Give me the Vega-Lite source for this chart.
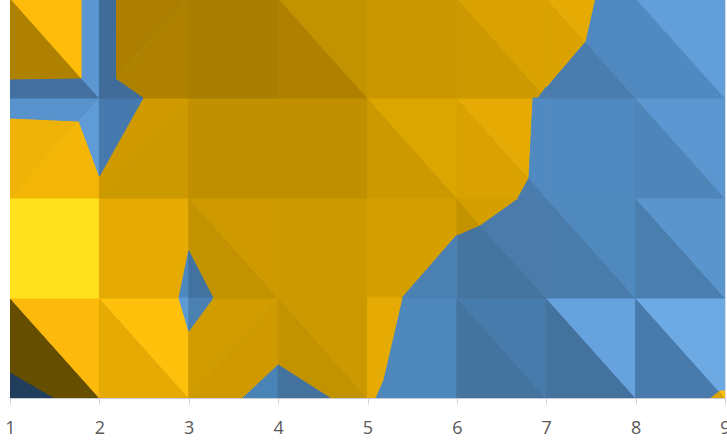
{"$schema":"https://vega.github.io/schema/vega-lite/v6.json","autosize":"none","padding":{"left":10,"top":0,"right":2,"bottom":45},"width":715,"height":398,"background":"white","config":{"view":{"stroke":"#DCDCDC"}},
"data":{"values":[
{"poly":1,"band":"b01","x":1,"y0":0,"y1":1},{"poly":1,"band":"b01","x":2,"y0":0,"y1":0},
{"poly":2,"band":"b03","x":1,"y0":1,"y1":1},{"poly":2,"band":"b03","x":2,"y0":0,"y1":1},
{"poly":3,"band":"b05","x":2,"y0":0,"y1":1},{"poly":3,"band":"b05","x":3,"y0":0,"y1":0},
{"poly":4,"band":"b04","x":2,"y0":1,"y1":1},{"poly":4,"band":"b04","x":2.891,"y0":0.109,"y1":1},{"poly":4,"band":"b04","x":3,"y0":0,"y1":0.67},
{"poly":5,"band":"b07","x":3,"y0":0,"y1":0.67},{"poly":5,"band":"b07","x":3.271,"y0":0.271,"y1":1},{"poly":5,"band":"b07","x":4,"y0":1,"y1":1},
{"poly":6,"band":"b08","x":3,"y0":0,"y1":0},{"poly":6,"band":"b08","x":3.607,"y0":0,"y1":0.607},{"poly":6,"band":"b08","x":4,"y0":0.33,"y1":1},
{"poly":7,"band":"b09","x":4,"y0":0.33,"y1":1},{"poly":7,"band":"b09","x":4.58,"y0":0,"y1":0.42},{"poly":7,"band":"b09","x":5,"y0":0,"y1":0},
{"poly":8,"band":"b10","x":4,"y0":1,"y1":1},{"poly":8,"band":"b10","x":5,"y0":0,"y1":1},
{"poly":9,"band":"c07","x":5.084,"y0":0,"y1":0},{"poly":9,"band":"c07","x":5.173,"y0":0,"y1":0.18},{"poly":9,"band":"c07","x":5.386,"y0":0,"y1":1},{"poly":9,"band":"c07","x":6,"y0":0,"y1":1},
{"poly":11,"band":"c01","x":6,"y0":0,"y1":1},{"poly":11,"band":"c01","x":7,"y0":0,"y1":0},
{"poly":12,"band":"c02","x":6,"y0":1,"y1":1},{"poly":12,"band":"c02","x":7,"y0":0,"y1":1},
{"poly":13,"band":"c03","x":7,"y0":0,"y1":1},{"poly":13,"band":"c03","x":8,"y0":0,"y1":0},
{"poly":14,"band":"c04","x":7,"y0":1,"y1":1},{"poly":14,"band":"c04","x":8,"y0":0,"y1":1},
{"poly":15,"band":"c05","x":8,"y0":0,"y1":1},{"poly":15,"band":"c05","x":9,"y0":0,"y1":0},
{"poly":16,"band":"c06","x":8,"y0":1,"y1":1},{"poly":16,"band":"c06","x":9,"y0":0,"y1":1},
{"poly":17,"band":"b06","x":1,"y0":1,"y1":2},{"poly":17,"band":"b06","x":2,"y0":1,"y1":2},
{"poly":18,"band":"b05","x":2,"y0":1,"y1":2},{"poly":18,"band":"b05","x":2.891,"y0":1,"y1":2},{"poly":18,"band":"b05","x":3,"y0":1.47,"y1":2},
{"poly":19,"band":"b09","x":3,"y0":1.47,"y1":2},{"poly":19,"band":"b09","x":3.271,"y0":1,"y1":1.729},{"poly":19,"band":"b09","x":4,"y0":1,"y1":1},
{"poly":20,"band":"b08","x":3,"y0":2,"y1":2},{"poly":20,"band":"b08","x":4,"y0":1,"y1":2},
{"poly":21,"band":"b10","x":4,"y0":1,"y1":2},{"poly":21,"band":"b10","x":5,"y0":1,"y1":2},
{"poly":22,"band":"b11","x":5,"y0":1,"y1":2},{"poly":22,"band":"b11","x":5.386,"y0":1,"y1":2},{"poly":22,"band":"b11","x":6,"y0":1.63,"y1":2},
{"poly":23,"band":"c09","x":6,"y0":1,"y1":1.63},{"poly":23,"band":"c09","x":6.259,"y0":1,"y1":1.73},{"poly":23,"band":"c09","x":7,"y0":1,"y1":1},
{"poly":24,"band":"c10","x":6.259,"y0":1.73,"y1":1.73},{"poly":24,"band":"c10","x":6.684,"y0":1.316,"y1":2},{"poly":24,"band":"c10","x":7,"y0":1,"y1":2},
{"poly":25,"band":"c11","x":7,"y0":1,"y1":2},{"poly":25,"band":"c11","x":8,"y0":1,"y1":1},
{"poly":26,"band":"c12","x":7,"y0":2,"y1":2},{"poly":26,"band":"c12","x":8,"y0":1,"y1":2},
{"poly":27,"band":"c13","x":8,"y0":1,"y1":2},{"poly":27,"band":"c13","x":9,"y0":1,"y1":1},
{"poly":28,"band":"c14","x":8,"y0":2,"y1":2},{"poly":28,"band":"c14","x":9,"y0":1,"y1":2},
{"poly":29,"band":"b13","x":1,"y0":2,"y1":2.8},{"poly":29,"band":"b13","x":1.772,"y0":2.77,"y1":2.77},
{"poly":30,"band":"b14","x":1,"y0":2,"y1":2},{"poly":30,"band":"b14","x":1.772,"y0":2,"y1":2.77},{"poly":30,"band":"b14","x":2,"y0":2,"y1":2.22},
{"poly":31,"band":"b08","x":2,"y0":2,"y1":2.22},{"poly":31,"band":"b08","x":2.488,"y0":2.488,"y1":3},{"poly":31,"band":"b08","x":3,"y0":3,"y1":3},
{"poly":32,"band":"b10","x":2,"y0":2,"y1":2},{"poly":32,"band":"b10","x":3,"y0":2,"y1":3},
{"poly":33,"band":"b12","x":3,"y0":2,"y1":3},{"poly":33,"band":"b12","x":5,"y0":2,"y1":3},
{"poly":35,"band":"b10","x":5,"y0":2,"y1":3},{"poly":35,"band":"b10","x":6,"y0":2,"y1":2},
{"poly":36,"band":"b15","x":5,"y0":3,"y1":3},{"poly":36,"band":"b15","x":6,"y0":2,"y1":3},
{"poly":37,"band":"b17","x":6,"y0":2,"y1":3},{"poly":37,"band":"b17","x":6.684,"y0":2,"y1":2.316},{"poly":37,"band":"b17","x":6.807,"y0":2.2,"y1":2.2},
{"poly":38,"band":"b05","x":6,"y0":3,"y1":3},{"poly":38,"band":"b05","x":6.807,"y0":2.2,"y1":3},{"poly":38,"band":"b05","x":6.852,"y0":3,"y1":3},
{"poly":39,"band":"c15","x":7,"y0":2,"y1":3},{"poly":39,"band":"c15","x":8,"y0":2,"y1":3},
{"poly":40,"band":"c16","x":8,"y0":2,"y1":3},{"poly":40,"band":"c16","x":9,"y0":2,"y1":2},
{"poly":41,"band":"c17","x":8,"y0":3,"y1":3},{"poly":41,"band":"c17","x":9,"y0":2,"y1":3},
{"poly":42,"band":"b18","x":1,"y0":3.18,"y1":4},{"poly":42,"band":"b18","x":1.806,"y0":3.19,"y1":3.19},
{"poly":43,"band":"b19","x":1,"y0":4,"y1":4},{"poly":43,"band":"b19","x":1.806,"y0":3.19,"y1":4},
{"poly":44,"band":"b20","x":2.181,"y0":3.19,"y1":4},{"poly":44,"band":"b20","x":3,"y0":4,"y1":4},
{"poly":45,"band":"b18","x":2.181,"y0":3.18,"y1":3.19},{"poly":45,"band":"b18","x":2.488,"y0":3,"y1":3.488},{"poly":45,"band":"b18","x":3,"y0":3,"y1":4},
{"poly":46,"band":"b21","x":3,"y0":3,"y1":4},{"poly":46,"band":"b21","x":4,"y0":3,"y1":4},
{"poly":47,"band":"b18","x":4,"y0":3,"y1":4},{"poly":47,"band":"b18","x":5,"y0":3,"y1":3},
{"poly":48,"band":"b09","x":4,"y0":4,"y1":4},{"poly":48,"band":"b09","x":5,"y0":3,"y1":4},
{"poly":49,"band":"b22","x":5,"y0":3,"y1":4},{"poly":49,"band":"b22","x":6,"y0":3,"y1":4},
{"poly":50,"band":"b10","x":6,"y0":3,"y1":4},{"poly":50,"band":"b10","x":6.908,"y0":3,"y1":3.092},{"poly":50,"band":"b10","x":6.95,"y0":3.05,"y1":3.05},
{"poly":51,"band":"b17","x":6,"y0":4,"y1":4},{"poly":51,"band":"b17","x":6.95,"y0":3.05,"y1":4},{"poly":51,"band":"b17","x":7,"y0":3.11,"y1":4},
{"poly":52,"band":"c18","x":7,"y0":3,"y1":3.11},{"poly":52,"band":"c18","x":7.434,"y0":3,"y1":3.566},{"poly":52,"band":"c18","x":8,"y0":3,"y1":3},
{"poly":53,"band":"c19","x":7.434,"y0":3.566,"y1":3.566},{"poly":53,"band":"c19","x":7.545,"y0":3.455,"y1":4},{"poly":53,"band":"c19","x":8,"y0":3,"y1":4},
{"poly":54,"band":"c15","x":8,"y0":3,"y1":4},{"poly":54,"band":"c15","x":9,"y0":3,"y1":3},
{"poly":55,"band":"c21","x":8,"y0":4,"y1":4},{"poly":55,"band":"c21","x":9,"y0":3,"y1":4},
{"poly":60,"band":"b02","x":1,"y0":0,"y1":0.25},{"poly":60,"band":"b02","x":1.481,"y0":0,"y1":0},
{"poly":61,"band":"c27","x":2.891,"y0":1,"y1":1},{"poly":61,"band":"c27","x":3,"y0":1,"y1":1.47},
{"poly":62,"band":"c28","x":2.891,"y0":1,"y1":1},{"poly":62,"band":"c28","x":3,"y0":0.67,"y1":1},
{"poly":63,"band":"c29","x":3,"y0":1,"y1":1.47},{"poly":63,"band":"c29","x":3.271,"y0":1,"y1":1},
{"poly":64,"band":"c30","x":3,"y0":0.67,"y1":1},{"poly":64,"band":"c30","x":3.271,"y0":1,"y1":1},
{"poly":65,"band":"c31","x":3.607,"y0":0,"y1":0},{"poly":65,"band":"c31","x":4,"y0":0,"y1":0.33},
{"poly":66,"band":"c03","x":4,"y0":0,"y1":0.33},{"poly":66,"band":"c03","x":4.58,"y0":0,"y1":0},
{"poly":67,"band":"b05","x":5,"y0":0,"y1":1},{"poly":67,"band":"b05","x":5.084,"y0":0,"y1":1},{"poly":67,"band":"b05","x":5.173,"y0":0.18,"y1":1},{"poly":67,"band":"b05","x":5.386,"y0":1,"y1":1},
{"poly":68,"band":"c30","x":5.386,"y0":1,"y1":1},{"poly":68,"band":"c30","x":6,"y0":1,"y1":1.63},
{"poly":69,"band":"b09","x":6,"y0":1.63,"y1":2},{"poly":69,"band":"b09","x":6.259,"y0":1.73,"y1":1.73},
{"poly":70,"band":"b11","x":6,"y0":2,"y1":2},{"poly":70,"band":"b11","x":6.259,"y0":1.73,"y1":2},{"poly":70,"band":"b11","x":6.684,"y0":2,"y1":2},
{"poly":71,"band":"c18","x":6.684,"y0":2,"y1":2},{"poly":71,"band":"c18","x":6.807,"y0":2,"y1":2.2},{"poly":71,"band":"c18","x":7,"y0":2,"y1":2},
{"poly":72,"band":"c15","x":6.807,"y0":2.2,"y1":2.2},{"poly":72,"band":"c15","x":6.852,"y0":2.153,"y1":3},{"poly":72,"band":"c15","x":6.908,"y0":2.095,"y1":3},{"poly":72,"band":"c15","x":7,"y0":2,"y1":3},
{"poly":73,"band":"c18","x":6.908,"y0":3,"y1":3},{"poly":73,"band":"c18","x":7,"y0":3,"y1":3.11},
{"poly":74,"band":"b17","x":7,"y0":3.11,"y1":4},{"poly":74,"band":"b17","x":7.434,"y0":3.566,"y1":3.566},
{"poly":75,"band":"b05","x":7,"y0":4,"y1":4},{"poly":75,"band":"b05","x":7.434,"y0":3.566,"y1":4},{"poly":75,"band":"b05","x":7.545,"y0":4,"y1":4},
{"poly":76,"band":"c22","x":1,"y0":2.8,"y1":3},{"poly":76,"band":"c22","x":1.772,"y0":2.77,"y1":3},{"poly":76,"band":"c22","x":2,"y0":3,"y1":3},
{"poly":77,"band":"c23","x":1.772,"y0":2.77,"y1":2.77},{"poly":77,"band":"c23","x":2,"y0":2.22,"y1":3},
{"poly":78,"band":"c24","x":2,"y0":2.22,"y1":3},{"poly":78,"band":"c24","x":2.488,"y0":3,"y1":3},
{"poly":79,"band":"c25","x":1,"y0":3,"y1":3.18},{"poly":79,"band":"c25","x":1.806,"y0":3,"y1":3.19},{"poly":79,"band":"c25","x":2,"y0":3,"y1":3},
{"poly":80,"band":"c17","x":1.806,"y0":3.19,"y1":4},{"poly":80,"band":"c17","x":2,"y0":3,"y1":4},
{"poly":81,"band":"c26","x":2,"y0":3,"y1":4},{"poly":81,"band":"c26","x":2.18,"y0":3,"y1":4},{"poly":81,"band":"c26","x":2.181,"y0":3,"y1":3.19},{"poly":81,"band":"c26","x":2.488,"y0":3,"y1":3},
{"poly":82,"band":"b17","x":8.843,"y0":0,"y1":0},{"poly":82,"band":"b17","x":8.944,"y0":0,"y1":0.07},{"poly":82,"band":"b17","x":9,"y0":0,"y1":0},
{"poly":83,"band":"b04","x":8.944,"y0":0.07,"y1":0.07},{"poly":83,"band":"b04","x":9,"y0":0,"y1":0.07}
]},
"mark":{"type":"area","interpolate":"linear","clip":true,"strokeWidth":1},
"encoding":{
"x":{"field":"x","type":"quantitative","scale":{"domain":[1,9],"nice":false,"zero":false},"axis":{"values":[1,2,3,4,5,6,7,8,9],"format":"d","title":null,"grid":false,"zindex":1,"domainColor":"#C9CDD2","tickColor":"#D4D4D4","tickSize":6,"labelColor":"#595959","labelFont":"Open Sans","labelFontSize":18,"labelPadding":15,"labelFlush":false,"labelBound":false,"labelOverlap":false}},
"y":{"field":"y0","type":"quantitative","scale":{"domain":[0,3.98],"nice":false,"zero":false},"axis":null},
"y2":{"field":"y1"},
"detail":{"field":"poly","type":"nominal"},
"fill":{"field":"band","type":"nominal","legend":null,"scale":{"domain":["b01","b02","b03","b04","b05","b06","b07","b08","b09","b10","b11","b12","b13","b14","b15","b17","b18","b19","b20","b21","b22","c01","c02","c03","c04","c05","c06","c07","c09","c10","c11","c12","c13","c14","c15","c16","c17","c18","c19","c21","c22","c23","c24","c25","c26","c27","c28","c29","c30","c31"],"range":["#654E00","#213F5C","#FDB90C","#FFC00C","#E5AB04","#FFE11D","#D19C00","#CF9A00","#C39200","#CC9900","#D59F00","#C19000","#EFB208","#F3B607","#DCA600","#D9A200","#AF8100","#FFBC0A","#AC7F00","#AA7E00","#CA9700","#43739E","#477BAC","#44729F","#66A2DD","#487BAB","#6DAAE4","#4F88BC","#44749F","#4A7BAA","#497CAB","#4F89BE","#4A7EAE","#5A95CE","#518AC0","#4F86B9","#5C97D1","#4A7DAD","#5089C0","#629ED9","#5792CC","#5F9BD6","#4679AD","#43709F","#3F6C98","#4D88C0","#5E9AD4","#4273A0","#4A80B2","#4A83B6"]}},
"stroke":{"field":"band","type":"nominal","legend":null,"scale":{"domain":["b01","b02","b03","b04","b05","b06","b07","b08","b09","b10","b11","b12","b13","b14","b15","b17","b18","b19","b20","b21","b22","c01","c02","c03","c04","c05","c06","c07","c09","c10","c11","c12","c13","c14","c15","c16","c17","c18","c19","c21","c22","c23","c24","c25","c26","c27","c28","c29","c30","c31"],"range":["#654E00","#213F5C","#FDB90C","#FFC00C","#E5AB04","#FFE11D","#D19C00","#CF9A00","#C39200","#CC9900","#D59F00","#C19000","#EFB208","#F3B607","#DCA600","#D9A200","#AF8100","#FFBC0A","#AC7F00","#AA7E00","#CA9700","#43739E","#477BAC","#44729F","#66A2DD","#487BAB","#6DAAE4","#4F88BC","#44749F","#4A7BAA","#497CAB","#4F89BE","#4A7EAE","#5A95CE","#518AC0","#4F86B9","#5C97D1","#4A7DAD","#5089C0","#629ED9","#5792CC","#5F9BD6","#4679AD","#43709F","#3F6C98","#4D88C0","#5E9AD4","#4273A0","#4A80B2","#4A83B6"]}}
}}
